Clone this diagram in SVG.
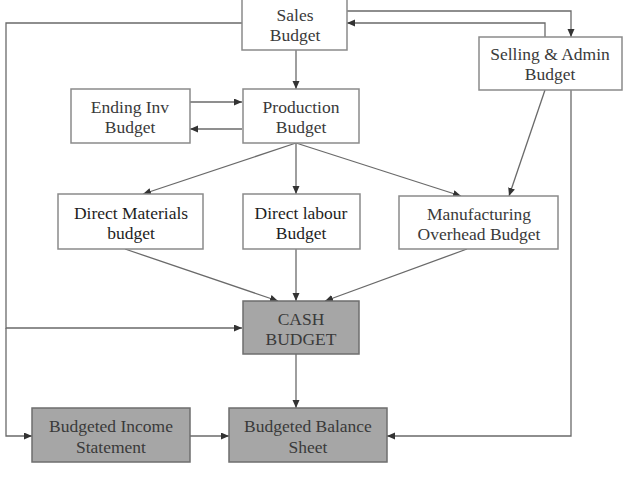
<svg xmlns="http://www.w3.org/2000/svg" width="631" height="477" viewBox="0 0 631 477">
<style>
.box{fill:#ffffff;stroke:#8a8a8a;stroke-width:1.5}
.dark{fill:#a6a6a6;stroke:#6e6e6e;stroke-width:1.5}
text{font-family:"Liberation Serif","Times New Roman",serif;font-size:17.5px;fill:#3a3a3a;text-anchor:middle}
.b text{fill:#1e1e1e}
.c{fill:none;stroke:#6a6a6a;stroke-width:1.3}
</style>
<defs>
<marker id="ar" markerUnits="userSpaceOnUse" markerWidth="9" markerHeight="8" refX="8" refY="3.5" orient="auto">
<path d="M0,0 L8,3.5 L0,7 z" fill="#333"/>
</marker>
</defs>
<rect width="631" height="477" fill="#ffffff"/>
<g id="connectors">
<polyline class="c" points="347,11 571,11 571,37" marker-end="url(#ar)"/>
<polyline class="c" points="545,37 545,23 347,23" marker-end="url(#ar)"/>
<polyline class="c" points="242,23 6,23 6,328 242,328" marker-end="url(#ar)"/>
<polyline class="c" points="6,328 6,436 32,436" marker-end="url(#ar)"/>
<line class="c" x1="296" y1="50" x2="296" y2="89" marker-end="url(#ar)"/>
<line class="c" x1="190" y1="102" x2="242" y2="102" marker-end="url(#ar)"/>
<line class="c" x1="242" y1="129" x2="190" y2="129" marker-end="url(#ar)"/>
<line class="c" x1="545" y1="90" x2="509" y2="196" marker-end="url(#ar)"/>
<polyline class="c" points="571,90 571,436 387,436" marker-end="url(#ar)"/>
<line class="c" x1="296" y1="143" x2="143" y2="194" marker-end="url(#ar)"/>
<line class="c" x1="296" y1="143" x2="296" y2="194" marker-end="url(#ar)"/>
<line class="c" x1="296" y1="143" x2="461" y2="196" marker-end="url(#ar)"/>
<line class="c" x1="125" y1="249" x2="278" y2="301" marker-end="url(#ar)"/>
<line class="c" x1="296" y1="249" x2="296" y2="301" marker-end="url(#ar)"/>
<line class="c" x1="467" y1="249" x2="325" y2="301" marker-end="url(#ar)"/>
<line class="c" x1="296" y1="354" x2="296" y2="408" marker-end="url(#ar)"/>
<line class="c" x1="190" y1="436" x2="229" y2="436" marker-end="url(#ar)"/>
</g>
<g id="sales">
<rect class="box" x="242" y="-2" width="105" height="52"/>
<text x="295" y="21">Sales</text>
<text x="295" y="41">Budget</text>
</g>
<g id="selling">
<rect class="box" x="479" y="37" width="143" height="53"/>
<text x="550" y="60">Selling &amp; Admin</text>
<text x="550" y="80">Budget</text>
</g>
<g id="ending">
<rect class="box" x="71" y="89" width="119" height="54"/>
<text x="130" y="113">Ending Inv</text>
<text x="130" y="133">Budget</text>
</g>
<g id="production">
<rect class="box" x="243" y="89" width="116" height="54"/>
<text x="301" y="113">Production</text>
<text x="301" y="133">Budget</text>
</g>
<g id="materials" class="b">
<rect class="box" x="58" y="194" width="145" height="55"/>
<text x="131" y="219">Direct Materials</text>
<text x="131" y="239">budget</text>
</g>
<g id="labour" class="b">
<rect class="box" x="243" y="194" width="117" height="55"/>
<text x="301" y="219">Direct labour</text>
<text x="301" y="239">Budget</text>
</g>
<g id="overhead">
<rect class="box" x="399" y="196" width="159" height="53"/>
<text x="479" y="220">Manufacturing</text>
<text x="479" y="240">Overhead Budget</text>
</g>
<g id="cash">
<rect class="dark" x="243" y="301" width="116" height="53"/>
<text x="301" y="325">CASH</text>
<text x="301" y="345">BUDGET</text>
</g>
<g id="income">
<rect class="dark" x="32" y="408" width="158" height="54"/>
<text x="111" y="432">Budgeted Income</text>
<text x="111" y="453">Statement</text>
</g>
<g id="balance">
<rect class="dark" x="229" y="408" width="158" height="54"/>
<text x="308" y="432">Budgeted Balance</text>
<text x="308" y="453">Sheet</text>
</g>
</svg>
